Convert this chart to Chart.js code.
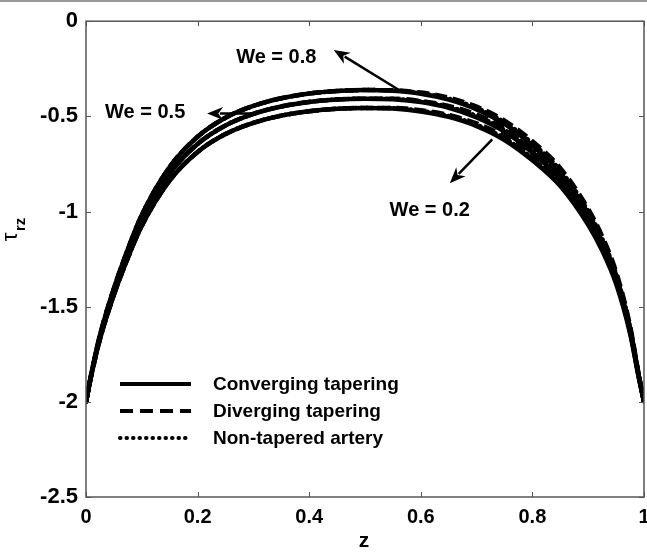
<!DOCTYPE html>
<html>
<head>
<meta charset="utf-8">
<script src="https://cdn.jsdelivr.net/npm/chart.js@4/dist/chart.umd.min.js"></script>
<style>
  html, body { margin: 0; padding: 0; background: #fff; }
  #wrap { position: relative; width: 647px; height: 553px; }
</style>
</head>
<body>
<div id="wrap"><canvas id="chart"></canvas></div>
<script>
// axial positions z
const zVals = [0, 0.01, 0.025, 0.05, 0.075, 0.1, 0.15, 0.2, 0.25, 0.3, 0.35, 0.4, 0.45, 0.5,
               0.55, 0.6, 0.65, 0.7, 0.75, 0.8, 0.85, 0.9, 0.925, 0.95, 0.975, 0.99, 1];

// shear stress tau_rz, We = 0.8
const we08Conv = [-2.000, -1.846, -1.650, -1.404, -1.198, -1.018, -0.766, -0.607, -0.507, -0.445, -0.405, -0.380, -0.367, -0.362,
                  -0.366, -0.381, -0.412, -0.463, -0.540, -0.653, -0.797, -1.013, -1.157, -1.342, -1.620, -1.856, -2.000];
const we08Div  = [-2.000, -1.846, -1.650, -1.404, -1.198, -1.018, -0.766, -0.607, -0.507, -0.445, -0.405, -0.380, -0.367, -0.362,
                  -0.363, -0.375, -0.402, -0.449, -0.522, -0.631, -0.772, -0.986, -1.130, -1.317, -1.600, -1.846, -2.000];
const we08Non  = [-2.000, -1.846, -1.650, -1.404, -1.198, -1.018, -0.766, -0.607, -0.507, -0.445, -0.405, -0.380, -0.367, -0.362,
                  -0.364, -0.378, -0.407, -0.456, -0.531, -0.642, -0.784, -0.999, -1.143, -1.329, -1.610, -1.851, -2.000];

// We = 0.5
const we05Conv = [-2.000, -1.850, -1.660, -1.420, -1.220, -1.045, -0.800, -0.645, -0.548, -0.487, -0.448, -0.424, -0.411, -0.407,
                  -0.410, -0.425, -0.455, -0.505, -0.580, -0.690, -0.830, -1.040, -1.180, -1.360, -1.630, -1.860, -2.000];
const we05Div  = [-2.000, -1.850, -1.660, -1.420, -1.220, -1.045, -0.800, -0.645, -0.548, -0.487, -0.448, -0.424, -0.411, -0.407,
                  -0.407, -0.419, -0.445, -0.491, -0.562, -0.668, -0.805, -1.013, -1.153, -1.335, -1.610, -1.850, -2.000];
const we05Non  = [-2.000, -1.850, -1.660, -1.420, -1.220, -1.045, -0.800, -0.645, -0.548, -0.487, -0.448, -0.424, -0.411, -0.407,
                  -0.408, -0.422, -0.450, -0.498, -0.571, -0.679, -0.817, -1.026, -1.166, -1.347, -1.620, -1.855, -2.000];

// We = 0.2
const we02Conv = [-2.000, -1.855, -1.671, -1.438, -1.244, -1.075, -0.837, -0.687, -0.593, -0.534, -0.496, -0.473, -0.460, -0.456,
                  -0.459, -0.474, -0.503, -0.551, -0.624, -0.731, -0.866, -1.070, -1.205, -1.380, -1.641, -1.864, -2.000];
const we02Div  = [-2.000, -1.855, -1.671, -1.438, -1.244, -1.075, -0.837, -0.687, -0.593, -0.534, -0.496, -0.473, -0.460, -0.456,
                  -0.456, -0.468, -0.493, -0.537, -0.606, -0.709, -0.841, -1.043, -1.178, -1.355, -1.621, -1.854, -2.000];
const we02Non  = [-2.000, -1.855, -1.671, -1.438, -1.244, -1.075, -0.837, -0.687, -0.593, -0.534, -0.496, -0.473, -0.460, -0.456,
                  -0.457, -0.471, -0.498, -0.544, -0.615, -0.720, -0.853, -1.056, -1.191, -1.367, -1.631, -1.859, -2.000];

const xTicks = [0, 0.2, 0.4, 0.6, 0.8, 1];
const yTicks = [0, -0.5, -1, -1.5, -2, -2.5];
const legendLabels = ['Converging tapering', 'Diverging tapering', 'Non-tapered artery'];

const FONT = '"Liberation Sans", Arial, Helvetica, sans-serif';
const styles = {
    conv: { borderDash: [], borderCapStyle: 'butt' },
    div:  { borderDash: [12, 6], borderCapStyle: 'butt' },
    non:  { borderDash: [0.5, 5], borderCapStyle: 'round' }
};

function series(vals, kind) {
    return {
        data: zVals.map((z, i) => ({ x: z, y: vals[i] })),
        borderColor: '#000',
        borderWidth: 4.5,
        pointRadius: 0,
        fill: false,
        cubicInterpolationMode: 'monotone',
        ...styles[kind]
    };
}

// arrows + We labels, in data coordinates
const notes = [
    { text: 'We = 0.8', at: [0.341, -0.193], from: [0.566, -0.371], to: [0.444, -0.151] },
    { text: 'We = 0.5', at: [0.106, -0.480], from: [0.297, -0.485], to: [0.217, -0.485] },
    { text: 'We = 0.2', at: [0.616, -0.997], from: [0.728, -0.621], to: [0.652, -0.851] }
];

function arrow(ctx, x1, y1, x2, y2) {
    const a = Math.atan2(y2 - y1, x2 - x1);
    const len = 16, half = 6.5;
    ctx.beginPath();
    ctx.moveTo(x1, y1);
    ctx.lineTo(x2 - Math.cos(a) * len * 0.8, y2 - Math.sin(a) * len * 0.8);
    ctx.stroke();
    ctx.beginPath();
    ctx.moveTo(x2, y2);
    ctx.lineTo(x2 - Math.cos(a) * len + Math.sin(a) * half, y2 - Math.sin(a) * len - Math.cos(a) * half);
    ctx.lineTo(x2 - Math.cos(a) * len * 0.7, y2 - Math.sin(a) * len * 0.7);
    ctx.lineTo(x2 - Math.cos(a) * len - Math.sin(a) * half, y2 - Math.sin(a) * len + Math.cos(a) * half);
    ctx.closePath();
    ctx.fill();
}

const decor = {
    id: 'decor',
    beforeDraw(chart) {
        const ctx = chart.ctx;
        ctx.save();
        ctx.fillStyle = '#999';
        ctx.fillRect(0, 0, chart.width, 2);
        ctx.restore();
    },
    afterDraw(chart) {
        const ctx = chart.ctx;
        const { left, right, top, bottom } = chart.chartArea;
        const xs = chart.scales.x, ys = chart.scales.y;
        ctx.save();

        // frame with inward ticks
        ctx.strokeStyle = '#555';
        ctx.lineWidth = 1.5;
        ctx.strokeRect(left, top, right - left, bottom - top);
        ctx.lineWidth = 1;
        xTicks.forEach(v => {
            const px = Math.round(xs.getPixelForValue(v)) + 0.5;
            ctx.beginPath();
            ctx.moveTo(px, bottom); ctx.lineTo(px, bottom - 5);
            ctx.moveTo(px, top); ctx.lineTo(px, top + 5);
            ctx.stroke();
        });
        yTicks.forEach(v => {
            const py = Math.round(ys.getPixelForValue(v)) + 0.5;
            ctx.beginPath();
            ctx.moveTo(left, py); ctx.lineTo(left + 5, py);
            ctx.moveTo(right, py); ctx.lineTo(right - 5, py);
            ctx.stroke();
        });

        // axis titles
        ctx.fillStyle = '#000';
        ctx.font = 'bold 21px ' + FONT;
        ctx.textAlign = 'center';
        ctx.textBaseline = 'middle';
        ctx.fillText('z', 364, 541);

        ctx.save();
        ctx.translate(14, 228);
        ctx.rotate(-Math.PI / 2);
        ctx.font = '22px ' + FONT;
        ctx.fillText('\u03c4', -9, -3);
        ctx.font = 'bold 15px ' + FONT;
        ctx.textAlign = 'left';
        ctx.fillText('rz', -3, 7);
        ctx.restore();

        // We labels and arrows
        ctx.strokeStyle = '#000';
        ctx.fillStyle = '#000';
        ctx.lineWidth = 2.5;
        ctx.font = 'bold 20px ' + FONT;
        ctx.textAlign = 'center';
        notes.forEach(n => {
            ctx.fillText(n.text, xs.getPixelForValue(n.at[0]), ys.getPixelForValue(n.at[1]));
            arrow(ctx, xs.getPixelForValue(n.from[0]), ys.getPixelForValue(n.from[1]),
                       xs.getPixelForValue(n.to[0]), ys.getPixelForValue(n.to[1]));
        });

        // legend
        const kinds = ['conv', 'div', 'non'];
        const rowY = [384, 411, 438];
        ctx.font = 'bold 19px ' + FONT;
        ctx.textAlign = 'left';
        kinds.forEach((k, i) => {
            ctx.save();
            ctx.lineWidth = 4;
            ctx.setLineDash(k === 'non' ? [0.5, 6] : k === 'div' ? [13, 7] : []);
            ctx.lineCap = styles[k].borderCapStyle;
            ctx.beginPath();
            ctx.moveTo(120, rowY[i]);
            ctx.lineTo(191, rowY[i]);
            ctx.stroke();
            ctx.restore();
            ctx.fillText(legendLabels[i], 213, rowY[i] + 1);
        });
        ctx.restore();
    }
};

new Chart(document.getElementById('chart'), {
    type: 'line',
    data: {
        datasets: [
            series(we08Conv, 'conv'), series(we08Div, 'div'), series(we08Non, 'non'),
            series(we05Conv, 'conv'), series(we05Div, 'div'), series(we05Non, 'non'),
            series(we02Conv, 'conv'), series(we02Div, 'div'), series(we02Non, 'non')
        ]
    },
    options: {
        responsive: true,
        maintainAspectRatio: false,
        animation: false,
        layout: { padding: { top: 18, right: 3, left: 0, bottom: 0 } },
        plugins: { legend: { display: false }, tooltip: { enabled: false } },
        scales: {
            x: {
                type: 'linear', min: 0, max: 1,
                grid: { display: false, drawTicks: false }, border: { display: false },
                afterBuildTicks: s => { s.ticks = xTicks.map(v => ({ value: v })); },
                afterFit: s => { s.height = 56; s.paddingLeft = 0; s.paddingRight = 0; },
                ticks: { color: '#000', padding: 8, maxRotation: 0, font: { family: FONT, size: 20, weight: 'bold' },
                         callback: v => String(v) }
            },
            y: {
                type: 'linear', min: -2.5, max: 0,
                grid: { display: false, drawTicks: false }, border: { display: false },
                afterBuildTicks: s => { s.ticks = yTicks.map(v => ({ value: v })); },
                afterFit: s => { s.width = 86; },
                ticks: { color: '#000', padding: 8, font: { family: FONT, size: 22, weight: 'bold' },
                         callback: v => String(v) }
            }
        }
    },
    plugins: [decor]
});
</script>
</body>
</html>
